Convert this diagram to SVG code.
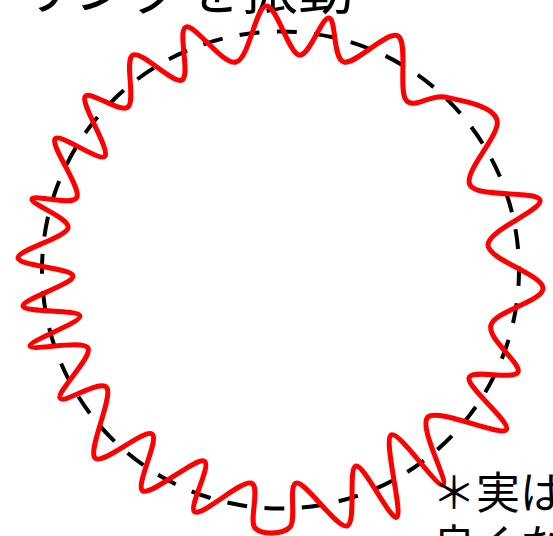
<svg xmlns="http://www.w3.org/2000/svg" width="553" height="536" viewBox="0 0 553 536">
<style>
.ring{fill:none;stroke:#000;stroke-width:4;stroke-dasharray:20 17.46;stroke-dashoffset:4}
.wave{fill:none;stroke:#ff0000;stroke-width:5;stroke-linejoin:round;stroke-linecap:round}
.t{font-family:"Noto Sans CJK JP","Noto Sans CJK SC",sans-serif;fill:#000}
</style>
<rect width="553" height="536" fill="#fff"/>
<g id="title"><text class="t" x="354" y="8.5" font-size="56" text-anchor="end">リングを振動</text></g>
<g id="ring"><circle class="ring" cx="280.5" cy="270" r="238.5"/></g>
<g id="wave"><path class="wave" d="M186,27 C195,24 222.7,65.5 236,62 C249.3,58.5 255.5,7.2 266,6 C276.5,4.8 288.5,53 299,55 C309.5,57 321.5,16.8 329,18 C336.5,19.2 332.5,59 344,62 C355.5,65 387.7,29.7 398,36 C408.3,42.3 398.2,89.8 406,100 C413.8,110.2 429.8,93.7 445,97 C460.2,100.3 492.8,105.3 497,120 C501.2,134.7 462.8,171.7 470,185 C477.2,198.3 537,190 540,200 C543,210 487.5,230.3 488,245 C488.5,259.7 542.5,274.7 543,288 C543.5,301.3 495.2,311 491,325 C486.8,339 521.7,363.2 518,372 C514.3,380.8 471,368.3 469,378 C467,387.7 512.8,423.5 506,430 C499.2,436.5 438.5,407.8 428,417 C417.5,426.2 449.2,482 443,485 C436.8,488 398.7,429.7 391,435 C383.3,440.3 402.8,511.8 397,517 C391.2,522.2 364.3,464.5 356,466 C347.7,467.5 356.8,523.2 347,526 C337.2,528.8 306.5,482.8 297,483 C287.5,483.2 297,519.5 290,527 C283,534.5 261.5,535.3 255,528 C248.5,520.7 261,485.7 251,483 C241,480.3 202.8,515.7 195,512 C187.2,508.3 212.7,464.5 204,461 C195.3,457.5 151.7,495.5 143,491 C134.3,486.5 160,439.5 152,434 C144,428.5 102.5,465.7 95,458 C87.5,450.3 112.8,398 107,388 C101.2,378 63.2,404.7 60,398 C56.8,391.3 93,356.7 88,348 C83,339.3 31.3,351.3 30,346 C28.7,340.7 81.2,322.7 80,316 C78.8,309.3 24.2,312.7 23,306 C21.8,299.3 73.8,284 73,276 C72.2,268 18.8,266 18,258 C17.2,250 65.7,237.8 68,228 C70.3,218.2 30.5,204.2 32,199 C33.5,193.8 73.2,207 77,197 C80.8,187 50.3,145.8 55,139 C59.7,132.2 100,163 105,156 C110,149 81.2,105.2 85,97 C88.8,88.8 120,114 128,107 C136,100 124,59.5 133,55 C142,50.5 173.2,84.7 182,80 C190.8,75.3 177,30 186,27 Z"/></g>
<g id="note"><text class="t" x="432" y="509" font-size="44">＊実は</text><text class="t" x="432" y="562" font-size="44">良くな</text></g>
</svg>
